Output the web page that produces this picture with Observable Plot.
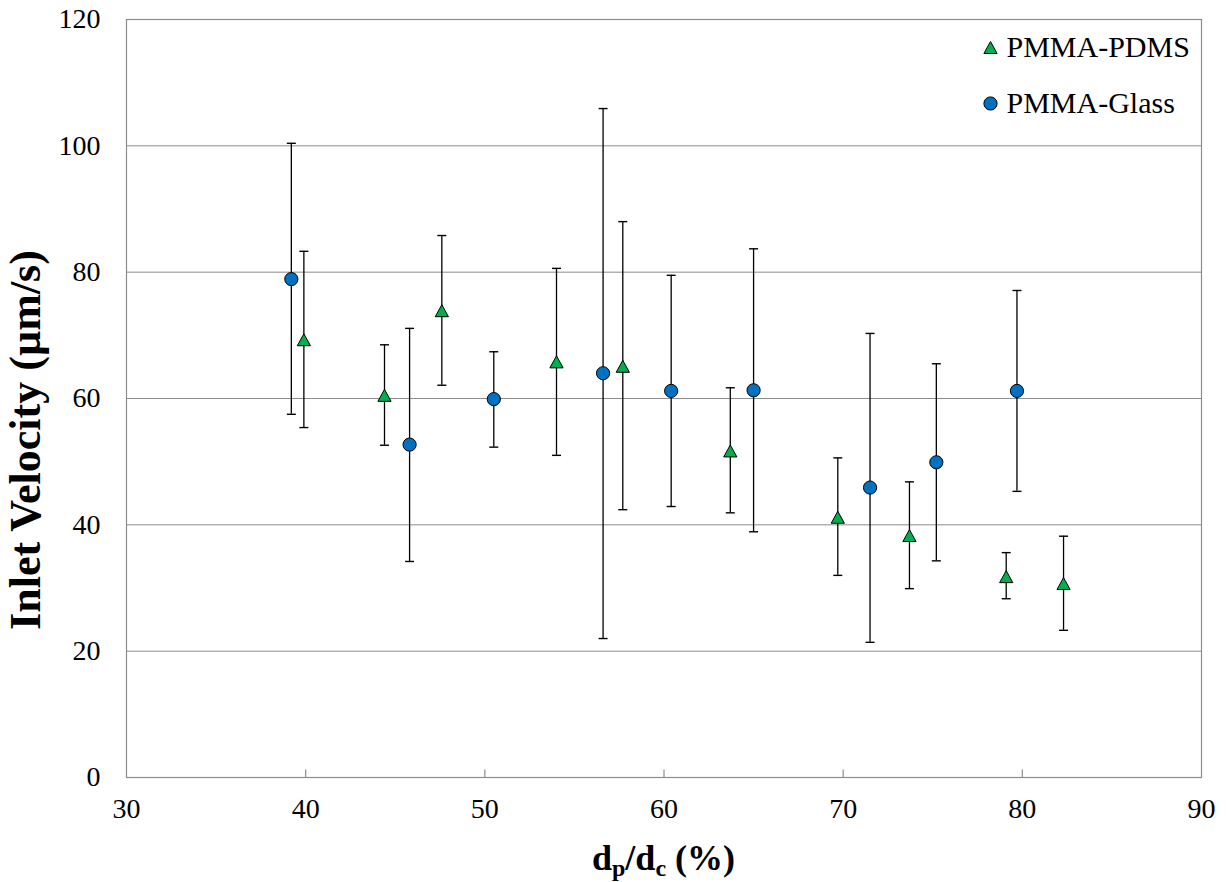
<!DOCTYPE html>
<html>
<head>
<meta charset="utf-8">
<script src="https://cdn.jsdelivr.net/npm/d3@7"></script>
<script src="https://cdn.jsdelivr.net/npm/@observablehq/plot@0.6"></script>
<style>
  html, body { margin: 0; padding: 0; background: #fff; }
  svg { display: block; }
</style>
</head>
<body>
<div id="chart"></div>
<script>
// ---- data ----
const seriesNames = ["PMMA-PDMS", "PMMA-Glass"];

const pdmsX  = [39.9, 44.4, 47.6, 54.0, 57.7, 63.7, 69.7, 73.7, 79.1, 82.3];
const pdmsY  = [69.3, 60.5, 73.9, 65.8, 65.1, 51.7, 41.2, 38.3, 31.8, 30.7];
const pdmsLo = [55.4, 52.6, 62.1, 51.0, 42.4, 41.9, 32.0, 29.9, 28.3, 23.3];
const pdmsHi = [83.3, 68.5, 85.8, 80.6, 88.0, 61.7, 50.6, 46.8, 35.6, 38.2];

const glassX  = [39.2, 45.8, 50.5, 56.6, 60.4, 65.0, 71.5, 75.2, 79.7];
const glassY  = [78.9, 52.7, 59.9, 64.0, 61.2, 61.3, 45.9, 49.9, 61.2];
const glassLo = [57.5, 34.2, 52.3, 22.0, 42.9, 38.9, 21.4, 34.3, 45.3];
const glassHi = [100.4, 71.1, 67.4, 105.9, 79.5, 83.7, 70.3, 65.5, 77.1];

const xTicks = [30, 40, 50, 60, 70, 80, 90];
const yTicks = [0, 20, 40, 60, 80, 100, 120];

const xTitleMain = ["d", "/d", " (%)"];
const xTitleSubs = ["p", "c"];
const yTitle = "Inlet Velocity (µm/s)";

// ---- build tables ----
const pdms = pdmsX.map((x, i) => ({series: seriesNames[0], x, y: pdmsY[i], lo: pdmsLo[i], hi: pdmsHi[i]}));
const glass = glassX.map((x, i) => ({series: seriesNames[1], x, y: glassY[i], lo: glassLo[i], hi: glassHi[i]}));
const all = pdms.concat(glass);

// ---- symbols ----
const hcap = {draw(ctx) { ctx.moveTo(-4.5, 0); ctx.lineTo(4.5, 0); }};
const vtick = {draw(ctx) { ctx.moveTo(0, 0); ctx.lineTo(0, -8); }};
const tri = {draw(ctx) { ctx.moveTo(0, -6); ctx.lineTo(6.6, 6); ctx.lineTo(-6.6, 6); ctx.closePath(); }};

const W = 1226, H = 882, mL = 126, mR = 25, mT = 19, mB = 105;
const gray = "#8c8c8c";
const font = "Liberation Serif";

const chart = Plot.plot({
  width: W, height: H,
  marginLeft: mL, marginRight: mR, marginTop: mT, marginBottom: mB,
  style: {color: "black", background: "white"},
  x: {domain: [30, 90]},
  y: {domain: [0, 120]},
  marks: [
    Plot.ruleY(yTicks, {stroke: gray, strokeWidth: 1}),
    Plot.frame({stroke: gray, strokeWidth: 1.2}),
    Plot.dot(xTicks.slice(1, -1), {x: d => d, y: () => 0, symbol: vtick, stroke: gray, fill: "none", strokeWidth: 1.2}),
    Plot.axisY(yTicks, {tickSize: 0, tickPadding: 26, fontSize: 28, fontFamily: font, label: null}),
    Plot.axisX(xTicks, {tickSize: 0, tickPadding: 21, fontSize: 28, fontFamily: font, label: null}),
    // error bars
    Plot.ruleX(all, {x: "x", y1: "lo", y2: "hi", stroke: "black", strokeWidth: 1.3}),
    Plot.dot(all, {x: "x", y: "lo", symbol: hcap, stroke: "black", fill: "none", strokeWidth: 1.4}),
    Plot.dot(all, {x: "x", y: "hi", symbol: hcap, stroke: "black", fill: "none", strokeWidth: 1.4}),
    // markers
    Plot.dot(pdms, {x: "x", y: "y", symbol: tri, fill: "#00B050", stroke: "black", strokeWidth: 1}),
    Plot.dot(glass, {x: "x", y: "y", r: 6.6, fill: "#0070C0", stroke: "black", strokeWidth: 1}),
    // legend
    Plot.dot([seriesNames[0]], {frameAnchor: "top-right", dx: -211, dy: 28, symbol: tri, fill: "#00B050", stroke: "black", strokeWidth: 1}),
    Plot.dot([seriesNames[1]], {frameAnchor: "top-right", dx: -211, dy: 84, r: 6.6, fill: "#0070C0", stroke: "black", strokeWidth: 1}),
    Plot.text([seriesNames[0]], {text: d => d, frameAnchor: "top-right", dx: -195, dy: 28, textAnchor: "start", lineAnchor: "middle", fontSize: 30, fontFamily: font, fill: "black"}),
    Plot.text([seriesNames[1]], {text: d => d, frameAnchor: "top-right", dx: -195, dy: 84, textAnchor: "start", lineAnchor: "middle", fontSize: 30, fontFamily: font, fill: "black"})
  ]
});

document.getElementById("chart").appendChild(chart);

const svg = d3.select(chart);
svg.attr("font-family", font);

// axis titles
const xt = svg.append("text")
  .attr("x", mL + (W - mL - mR) / 2)
  .attr("y", H - 12)
  .attr("text-anchor", "middle")
  .attr("font-family", font)
  .attr("font-weight", "bold")
  .attr("font-size", 36)
  .attr("fill", "black");
xt.append("tspan").text(xTitleMain[0]);
xt.append("tspan").attr("font-size", 24).attr("dy", 6).text(xTitleSubs[0]);
xt.append("tspan").attr("dy", -6).text(xTitleMain[1]);
xt.append("tspan").attr("font-size", 24).attr("dy", 6).text(xTitleSubs[1]);
xt.append("tspan").attr("dy", -6).text(xTitleMain[2]);

svg.append("text")
  .attr("transform", `translate(40, ${mT + (H - mT - mB) / 2 + 42}) rotate(-90)`)
  .attr("text-anchor", "middle")
  .attr("font-family", font)
  .attr("font-weight", "bold")
  .attr("font-size", 44)
  .attr("fill", "black")
  .text(yTitle);
</script>
</body>
</html>
